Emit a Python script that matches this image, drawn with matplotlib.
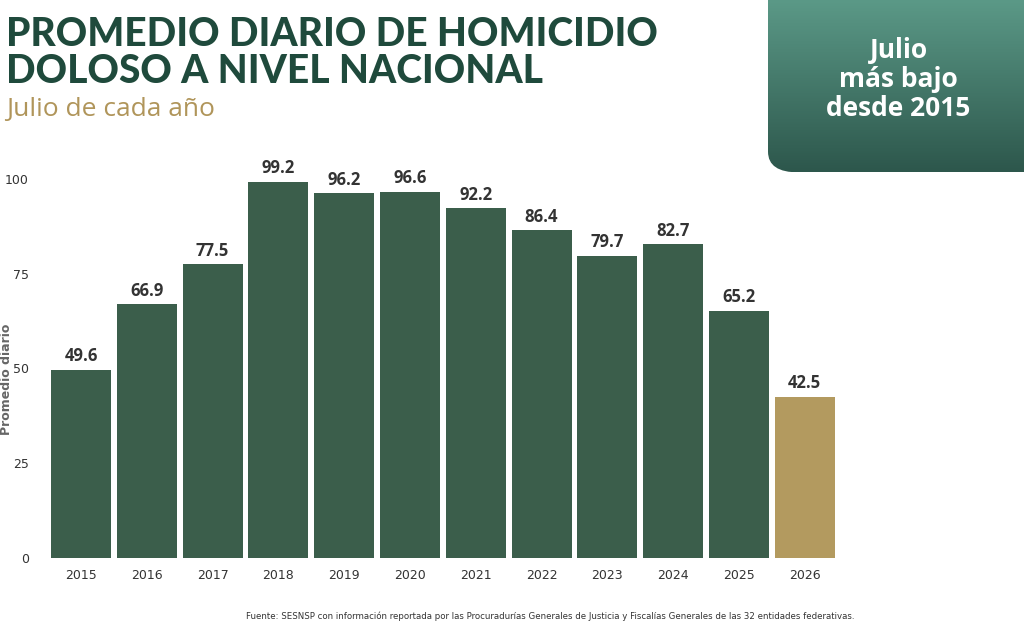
import matplotlib
matplotlib.use("Agg")
from matplotlib import pyplot as plt
from matplotlib.patches import FancyBboxPatch
import numpy as np

years = ['2015', '2016', '2017', '2018', '2019', '2020', '2021', '2022', '2023', '2024', '2025', '2026']
values = [49.6, 66.9, 77.5, 99.2, 96.2, 96.6, 92.2, 86.4, 79.7, 82.7, 65.2, 42.5]

green = '#3b5e4b'
gold = '#b39a5f'
colors = [green] * 11 + [gold]

fig = plt.figure(figsize=(10.24, 6.27), dpi=100)
ax = fig.add_axes((0.047, 0.110, 0.771, 0.635))
x = np.arange(len(years))
ax.bar(x, values, 0.91, color=colors)
for xi, v in zip(x, values):
    ax.text(xi, v + 1.2, f'{v}', ha='center', va='bottom', fontsize=12,
            fontweight='bold', color='#333333', family='Open Sans')
ax.set_xlim(-0.5, 11.5)
ax.set_ylim(0, 105)
ax.set_yticks([0, 25, 50, 75, 100])
ax.set_xticks(x, years)
ax.tick_params(length=0, labelsize=9, colors='#333333', pad=8)
ax.tick_params(axis='y', pad=14)
for s in ax.spines.values():
    s.set_visible(False)
ax.set_ylabel('Promedio diario', fontsize=9, fontweight='bold', color='#666666', labelpad=2)
ax.yaxis.set_label_coords(-0.045, 0.45)

fig.text(0.006, 0.975, 'PROMEDIO DIARIO DE HOMICIDIO\nDOLOSO A NIVEL NACIONAL', fontsize=28,
         fontweight=900, color='#1f4a3c', va='top', linespacing=1.0, family='Lato')
fig.text(0.006, 0.845, 'Julio de cada año', fontsize=19, color='#b0955a', va='top', family='Open Sans')

# gradient box top-right
box_ax = fig.add_axes((0.75, 0.725, 0.25, 0.275))
box_ax.set_xlim(0, 1)
box_ax.set_ylim(0, 1)
box_ax.axis('off')
grad = np.linspace(0, 1, 100).reshape(-1, 1)
cmap = matplotlib.colors.LinearSegmentedColormap.from_list('g', ['#2d574c', '#5b9987'])
patch = FancyBboxPatch((0.0, 0.0), 1.2, 1.2, boxstyle='round,pad=0,rounding_size=0.12',
                       transform=box_ax.transAxes, facecolor='none', edgecolor='none')
box_ax.add_patch(patch)
im = box_ax.imshow(grad, extent=(0, 1, 0, 1), origin='lower', cmap=cmap, aspect='auto')
im.set_clip_path(patch)
box_ax.text(0.51, 0.54, 'Julio\nmás bajo\ndesde 2015', ha='center', va='center', fontsize=19,
            fontweight='bold', color='white', linespacing=1.1, family='Open Sans')

fig.text(0.24, 0.012, 'Fuente: SESNSP con información reportada por las Procuradurías Generales de Justicia y Fiscalías Generales de las 32 entidades federativas.',
         fontsize=6.2, color='#333333')

fig.savefig('out.png', dpi=100)
